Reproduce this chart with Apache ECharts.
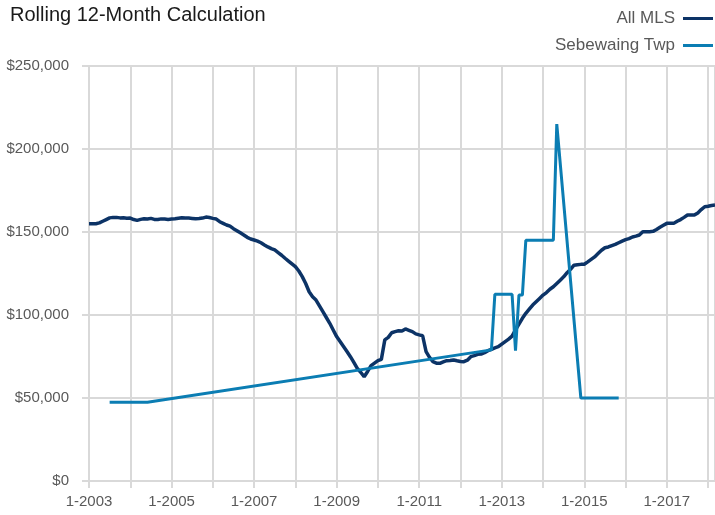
<!DOCTYPE html>
<html>
<head>
<meta charset="utf-8">
<script src="https://cdn.jsdelivr.net/npm/echarts@6/dist/echarts.min.js"></script>
<style>
  html, body { margin: 0; padding: 0; background: #fff; }
  #chart { width: 715px; height: 515px; }
</style>
</head>
<body>
<div id="chart"></div>
<script>
// All MLS, monthly from 1-2003 to 3-2018
var mlsStart = 2003;
var mlsValues = [
  155000, 155000, 155000, 155500, 156500, 157500, 158500, 158800, 158800, 158500, 158600, 158300,
  158400, 157500, 157000, 157600, 158000, 157800, 158200, 157600, 157500, 157900, 157800, 157600,
  157800, 158000, 158300, 158600, 158500, 158400, 158200, 158000, 158100, 158400, 159000, 158700,
  158200, 157800, 156200, 155200, 154200, 153500, 152000, 150800, 149500, 148200, 146800, 145800,
  145200, 144500, 143500, 142200, 141000, 140000, 139200, 137600, 136000, 134200, 132500, 130800,
  129100, 126500, 123100, 119000, 114000, 111000, 109000, 105500, 102000, 98500, 95000, 91000,
  87000, 84000, 81000, 78000, 74900, 71500, 67900, 65500, 62800, 66000, 69500, 71000,
  72500, 73300, 85000, 86500, 89300, 90000, 90500, 90400, 91600, 90800, 90000, 88600,
  88000, 87500, 77900, 74500, 71900, 71000, 70900, 71800, 72500, 72600, 72900, 72400,
  72000, 71900, 72800, 74900, 75500, 76300, 76500, 77300, 78500, 79300, 80200, 80900,
  82500, 84000, 85500, 87300, 91000, 94500, 98000, 101000, 103500, 106000, 108000, 110000,
  112000, 113500, 115500, 117000, 119000, 121000, 123000, 125500, 127500, 130000, 130300, 130500,
  130600, 132000, 133500, 135000, 137000, 139000, 140500, 141000, 141800, 142500, 143500, 144500,
  145400, 146000, 147000, 147500, 148200, 150200, 150200, 150200, 150400, 151500, 152800, 154000,
  155200, 155200, 155200, 156500, 157500, 158800, 160200, 160200, 160200, 161500, 163500, 165200,
  165500, 166000, 166300
];

// Sebewaing Twp, months with sales only
var twpDates = ['2003-07', '2004-06', '2012-10', '2012-11', '2013-04', '2013-05', '2013-06',
  '2013-07', '2013-08', '2014-04', '2014-05', '2014-12', '2015-11'];
var twpValues = [47500, 47500, 79000, 112500, 112500, 78500, 112000,
  112000, 145000, 145000, 215000, 50000, 50000];

var yTicks = [0, 50000, 100000, 150000, 200000, 250000];

function toYear(s) {
  var p = s.split('-');
  return +p[0] + (+p[1] - 1) / 12;
}
function money(v) {
  return '$' + String(v).replace(/\B(?=(\d{3})+(?!\d))/g, ',');
}

var mlsData = mlsValues.map(function (v, i) { return [mlsStart + i / 12, v]; });
var twpData = twpDates.map(function (d, i) { return [toYear(d), twpValues[i]]; });

var font = "'Liberation Sans Narrow', 'Arial Narrow', sans-serif";
var grey = '#d9d9d9';

var chart = echarts.init(document.getElementById('chart'));
chart.setOption({
  animation: false,
  textStyle: { fontFamily: font },
  title: {
    text: 'Rolling 12-Month Calculation',
    left: 5, top: 0,
    textStyle: { fontFamily: font, fontSize: 20, fontWeight: 'normal', color: '#1a1a1a' }
  },
  legend: {
    orient: 'vertical',
    right: 2, top: 10,
    padding: 0,
    align: 'right',
    icon: 'rect',
    itemWidth: 30, itemHeight: 3,
    itemGap: 10,
    textStyle: { fontFamily: font, fontSize: 17, color: '#595959', padding: [0, 3, 0, 0] },
    data: ['All MLS', 'Sebewaing Twp']
  },
  grid: { left: 89, right: 0, top: 66, bottom: 34 },
  xAxis: {
    type: 'value',
    min: 2003,
    max: mlsStart + (mlsValues.length - 1) / 12,
    interval: 1,
    axisLine: { show: true, lineStyle: { color: grey, width: 2 } },
    axisTick: { show: true, length: 7, lineStyle: { color: grey, width: 2 } },
    splitLine: { show: true, lineStyle: { color: grey, width: 2 } },
    axisLabel: {
      fontFamily: font, fontSize: 15, color: '#595959', margin: 13,
      showMaxLabel: false,
      formatter: function (v) {
        var y = Math.round(v);
        if (Math.abs(v - y) > 0.001 || y % 2 !== 1) return '';
        return '1-' + y;
      }
    }
  },
  yAxis: {
    type: 'value',
    min: yTicks[0],
    max: yTicks[yTicks.length - 1],
    interval: yTicks[1] - yTicks[0],
    axisLine: { show: true, lineStyle: { color: grey, width: 2 } },
    axisTick: { show: true, length: 7, lineStyle: { color: grey, width: 2 } },
    splitLine: { show: true, lineStyle: { color: grey, width: 2 } },
    axisLabel: {
      fontFamily: font, fontSize: 15, color: '#595959', margin: 20,
      formatter: money
    }
  },
  series: [
    {
      name: 'All MLS',
      type: 'line',
      data: mlsData,
      symbol: 'none',
      color: '#0c3366',
      lineStyle: { color: '#0c3366', width: 3.5 },
      z: 3
    },
    {
      name: 'Sebewaing Twp',
      type: 'line',
      data: twpData,
      symbol: 'none',
      color: '#0b7db3',
      lineStyle: { color: '#0b7db3', width: 3 },
      z: 4
    }
  ]
});
</script>
</body>
</html>
